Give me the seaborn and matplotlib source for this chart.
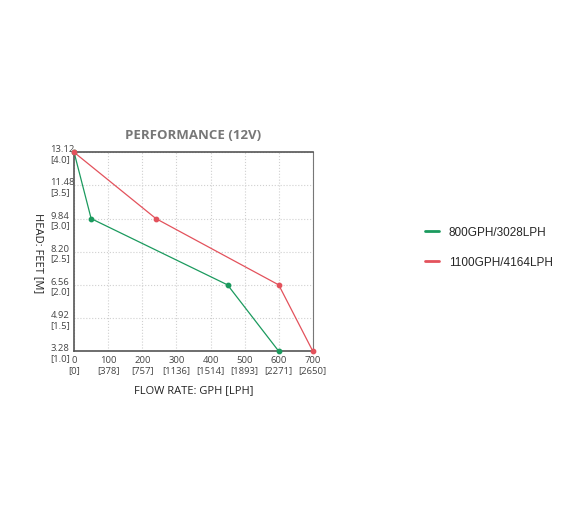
import matplotlib
matplotlib.use("Agg")
import matplotlib.pyplot as plt
import seaborn as sns
import pandas as pd

# pump curves
flow_800 = [0, 50, 450, 600]
head_800 = [13.12, 9.84, 6.56, 3.28]
flow_1100 = [0, 240, 600, 700]
head_1100 = [13.12, 9.84, 6.56, 3.28]

x_ticks = [0, 100, 200, 300, 400, 500, 600, 700]
x_lph = [0, 378, 757, 1136, 1514, 1893, 2271, 2650]
y_ticks = [3.28, 4.92, 6.56, 8.20, 9.84, 11.48, 13.12]
y_m = [1.0, 1.5, 2.0, 2.5, 3.0, 3.5, 4.0]

series = ["800GPH/3028LPH", "1100GPH/4164LPH"]
colors = {"800GPH/3028LPH": "#1b9a5e", "1100GPH/4164LPH": "#e3525c"}

df = pd.concat([
    pd.DataFrame({"flow": flow_800, "head": head_800, "model": series[0]}),
    pd.DataFrame({"flow": flow_1100, "head": head_1100, "model": series[1]}),
])

sns.set_style("white")
plt.rcParams["font.family"] = ["Open Sans", "DejaVu Sans"]

fig = plt.figure(figsize=(5.88, 5.06), dpi=100)
ax = fig.add_axes([0.126, 0.304, 0.406, 0.393])

sns.lineplot(data=df, x="flow", y="head", hue="model", palette=colors,
             sort=False, linewidth=0.9, ax=ax, legend=False)
for name in series:
    sub = df[df["model"] == name]
    ax.scatter(sub["flow"], sub["head"], s=10, color=colors[name], zorder=5, clip_on=False)

ax.set_xlim(0, 700)
ax.set_ylim(3.28, 13.12)
ax.set_xticks(x_ticks)
ax.set_xticklabels([f"{a}\n[{b}]" for a, b in zip(x_ticks, x_lph)], fontsize=6.8,
                   color="#444444", linespacing=1.1)
ax.set_yticks(y_ticks)
ax.set_yticklabels([f"{a:.2f}\n[{b:.1f}]" for a, b in zip(y_ticks, y_m)], fontsize=6.8,
                   color="#444444", ha="left", linespacing=1.1)
ax.tick_params(axis="y", pad=17, length=0)
ax.tick_params(axis="x", pad=3, length=0)
ax.grid(True, color="#d0d0d0", linestyle=":", linewidth=0.8)

for side in ["left", "bottom", "top"]:
    ax.spines[side].set_color("#555555")
    ax.spines[side].set_linewidth(1.2)
ax.spines["right"].set_color("#777777")
ax.spines["right"].set_linewidth(0.8)

ax.set_xlabel("FLOW RATE: GPH [LPH]", fontsize=8, color="#222222", labelpad=7)
ax.set_ylabel("HEAD: FEET [M]", fontsize=8, color="#222222", rotation=270, va="center")
ax.yaxis.set_label_coords(-0.15, 0.5)
ax.set_title("PERFORMANCE (12V)", fontsize=9.5, fontweight="bold", color="#777777", pad=10)

handles = [plt.Line2D([], [], color=colors[n], linewidth=2) for n in series]
fig.legend(handles, series, loc="center left", bbox_to_anchor=(0.705, 0.51),
           frameon=False, handlelength=1.2, labelspacing=1.5,
           prop={"family": ["Liberation Sans", "DejaVu Sans"], "size": 8.5})

fig.savefig("out.png", dpi=100)
